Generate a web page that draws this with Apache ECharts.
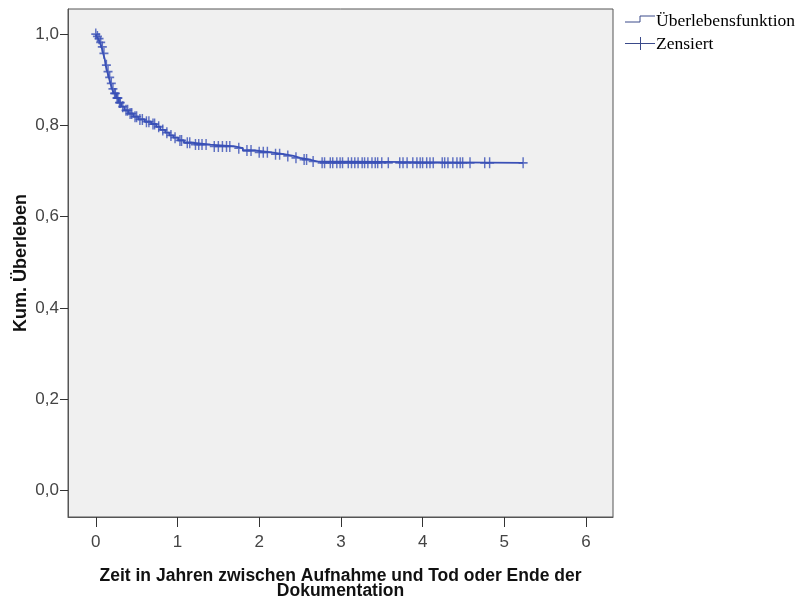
<!DOCTYPE html>
<html><head><meta charset="utf-8">
<script src="https://cdn.jsdelivr.net/npm/echarts@6/dist/echarts.min.js"></script>
<style>html,body{margin:0;padding:0;background:#fff}#c{width:798px;height:600px}</style>
</head><body><div id="c"></div>
<script>
// Kaplan-Meier step data (event times and survival after each event)
const eventTimes = [0.01,0.03,0.05,0.07,0.09,0.11,0.12,0.14,0.16,0.18,0.20,0.22,0.25,0.28,0.31,0.35,0.40,0.46,0.52,0.60,0.68,0.74,0.79,0.85,0.90,0.95,1.01,1.08,1.18,1.40,1.70,1.80,1.95,2.15,2.30,2.42,2.50,2.62,2.70];
const survival   = [0.995,0.990,0.982,0.972,0.958,0.945,0.932,0.918,0.905,0.892,0.880,0.870,0.860,0.850,0.841,0.833,0.826,0.819,0.813,0.808,0.803,0.797,0.790,0.784,0.778,0.773,0.767,0.762,0.758,0.754,0.750,0.745,0.741,0.737,0.733,0.729,0.725,0.721,0.718];
// censored observation times
const censorTimes = [0.00,0.02,0.04,0.06,0.08,0.10,0.13,0.15,0.17,0.19,0.21,0.23,0.24,0.26,0.27,0.29,0.30,0.33,0.37,0.39,0.42,0.44,0.48,0.50,0.54,0.57,0.62,0.65,0.70,0.72,0.77,0.82,0.87,0.92,0.97,1.03,1.05,1.12,1.15,1.22,1.26,1.30,1.35,1.45,1.50,1.55,1.60,1.64,1.75,1.85,1.90,2.00,2.05,2.10,2.20,2.25,2.35,2.45,2.55,2.58,2.66,
  2.77,2.80,2.87,2.90,2.95,2.99,3.02,3.09,3.13,3.17,3.21,3.26,3.29,3.33,3.38,3.42,3.45,3.50,3.58,3.72,3.76,3.81,3.88,3.93,3.97,4.00,4.05,4.09,4.13,4.24,4.27,4.31,4.37,4.42,4.46,4.49,4.58,4.76,4.82,5.23];
const xTicks = [0,1,2,3,4,5,6];
const yTicks = [0,0.2,0.4,0.6,0.8,1.0];
const seriesNames = ['Überlebensfunktion','Zensiert'];
const xTitle = 'Zeit in Jahren zwischen Aufnahme und Tod oder Ende der\nDokumentation';
const yTitle = 'Kum. Überleben';

function survAt(t){ let s=1; for(let i=0;i<eventTimes.length;i++){ if(eventTimes[i]<=t) s=survival[i]; else break; } return s; }
const stepData = [[0,1]].concat(eventTimes.map((t,i)=>[t,survival[i]]));
const lastT = censorTimes[censorTimes.length-1];
stepData.push([lastT, survAt(lastT)]);
const censorData = censorTimes.map(t=>[t, survAt(t)]);

const COL = '#3a50b6';
const chart = echarts.init(document.getElementById('c'));
chart.setOption({
  animation:false,
  backgroundColor:'#fff',
  grid:{left:68,right:185,top:9,bottom:83,show:true,containLabel:false,outerBoundsMode:'none',
    backgroundColor:'#f0f0f0',borderColor:'#555',borderWidth:1},
  xAxis:{type:'value',min:-0.34,max:6.33,
    axisLine:{show:true,onZero:false,lineStyle:{color:'#555'}},
    axisTick:{show:true,customValues:xTicks,length:10,lineStyle:{color:'#333'}},
    axisLabel:{customValues:xTicks,margin:17,fontSize:17,color:'#444',fontFamily:'Arial'},
    splitLine:{show:false},
    name:xTitle,nameLocation:'middle',nameGap:52,
    nameTextStyle:{fontWeight:'bold',fontSize:17.5,color:'#111',fontFamily:'Arial',lineHeight:15}},
  yAxis:{type:'value',min:-0.058,max:1.055,
    axisLine:{show:true,onZero:false,lineStyle:{color:'#555'}},
    axisTick:{show:true,customValues:yTicks,length:8,lineStyle:{color:'#333'}},
    axisLabel:{customValues:yTicks,margin:9,fontSize:17,color:'#444',fontFamily:'Arial',
      formatter:v=>v.toFixed(1).replace('.',',')},
    splitLine:{show:false},
    name:yTitle,nameLocation:'middle',nameGap:38,nameMoveOverlap:false,
    nameTextStyle:{fontWeight:'bold',fontSize:18,color:'#111',fontFamily:'Arial'}},
  series:[
    {name:seriesNames[0],type:'line',step:'end',data:stepData,showSymbol:false,
      lineStyle:{color:COL,width:1.8},itemStyle:{color:COL},z:2},
    {name:seriesNames[1],type:'scatter',data:censorData,symbol:'path://M0,5L10,5M5,0L5,10',symbolSize:[9,11],
      itemStyle:{color:'rgba(0,0,0,0)',borderColor:COL,borderWidth:1.6},z:3}
  ],
  graphic:[
    {type:'polyline',shape:{points:[[625,22],[640,22],[640,16],[655,16]]},style:{stroke:'#3a4a8a',lineWidth:1,fill:null}},
    {type:'text',left:656,top:12,style:{text:seriesNames[0],font:'17.5px "Liberation Serif"',fill:'#000'}},
    {type:'line',shape:{x1:625,y1:43.5,x2:655,y2:43.5},style:{stroke:'#3a4a8a',lineWidth:1}},
    {type:'line',shape:{x1:640.5,y1:37,x2:640.5,y2:50},style:{stroke:'#3a4a8a',lineWidth:1}},
    {type:'text',left:656,top:35,style:{text:seriesNames[1],font:'17.5px "Liberation Serif"',fill:'#000'}}
  ]
});
</script></body></html>
